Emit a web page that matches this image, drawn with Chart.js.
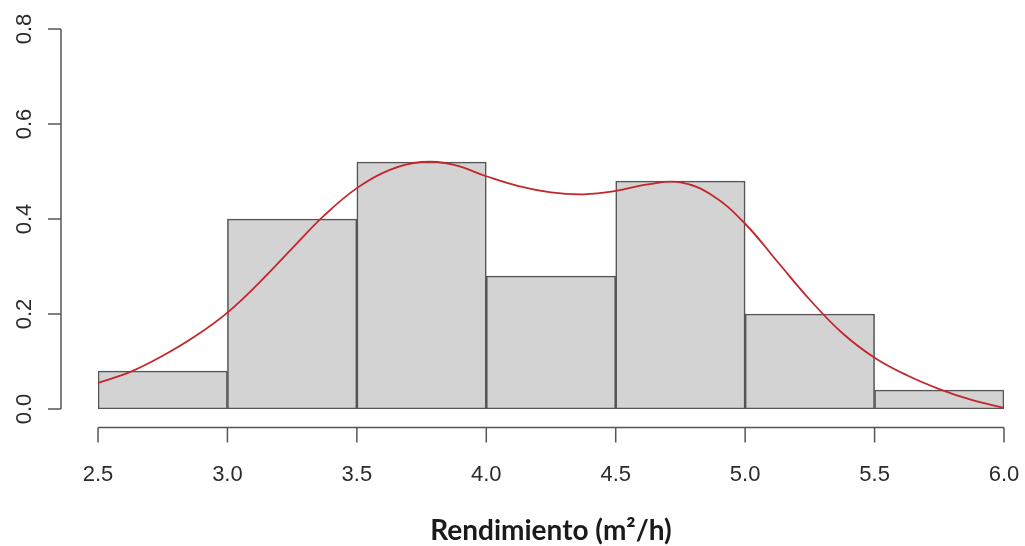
<!DOCTYPE html>
<html>
<head>
<meta charset="utf-8">
<title>Rendimiento</title>
<script src="https://cdn.jsdelivr.net/npm/chart.js@4/dist/chart.umd.min.js"></script>
<style>
  html, body { margin: 0; padding: 0; background: #ffffff; }
  #wrap { width: 1025px; height: 546px; }
</style>
</head>
<body>
<div id="wrap"><canvas id="chart" width="1025" height="546"></canvas></div>
<script>
// Histogram bins (centres), their densities, and the kernel density curve
const binCenters = [2.75, 3.25, 3.75, 4.25, 4.75, 5.25, 5.75];
const binDensity = [0.08, 0.40, 0.52, 0.28, 0.48, 0.20, 0.04];

const curveX = [2.5, 2.625, 2.75, 2.875, 3.0, 3.125, 3.25, 3.375, 3.5, 3.625, 3.75, 3.875,
                4.0, 4.125, 4.25, 4.375, 4.5, 4.625, 4.75, 4.875, 5.0, 5.125, 5.25, 5.375,
                5.5, 5.625, 5.75, 5.875, 6.0];
const curveY = [0.055, 0.078, 0.112, 0.153, 0.203, 0.267, 0.338, 0.408, 0.465, 0.503, 0.520, 0.514,
                0.490, 0.469, 0.456, 0.452, 0.459, 0.473, 0.477, 0.449, 0.390, 0.310, 0.230, 0.160,
                0.108, 0.071, 0.042, 0.019, 0.002];

const xTicks = [2.5, 3.0, 3.5, 4.0, 4.5, 5.0, 5.5, 6.0];
const yTicks = [0.0, 0.2, 0.4, 0.6, 0.8];
const xTitle = 'Rendimiento (m\u00B2/h)';

const axisColor = '#555555';
const labelColor = '#2b2b2b';

// R-style detached axes: lines and tick marks offset from the plotting region
const detachedAxes = {
  id: 'detachedAxes',
  afterDraw(chart) {
    const { ctx, scales: { x, y } } = chart;
    ctx.save();
    ctx.strokeStyle = axisColor;
    ctx.lineWidth = 1.5;
    ctx.lineCap = 'butt';

    // y axis
    const yLineX = 61, yTickLen = 13;
    ctx.beginPath();
    ctx.moveTo(yLineX, y.getPixelForValue(yTicks[0]));
    ctx.lineTo(yLineX, y.getPixelForValue(yTicks[yTicks.length - 1]));
    yTicks.forEach(v => {
      const py = y.getPixelForValue(v);
      ctx.moveTo(yLineX - yTickLen, py);
      ctx.lineTo(yLineX, py);
    });
    ctx.stroke();

    // x axis
    const xLineY = 427.5, xTickLen = 15;
    ctx.beginPath();
    ctx.moveTo(x.getPixelForValue(xTicks[0]), xLineY);
    ctx.lineTo(x.getPixelForValue(xTicks[xTicks.length - 1]), xLineY);
    xTicks.forEach(v => {
      const px = x.getPixelForValue(v);
      ctx.moveTo(px, xLineY);
      ctx.lineTo(px, xLineY + xTickLen);
    });
    ctx.stroke();
    ctx.restore();
  }
};

new Chart(document.getElementById('chart'), {
  type: 'bar',
  data: {
    datasets: [
      {
        type: 'line',
        order: 0,
        data: curveX.map((v, i) => ({ x: v, y: curveY[i] })),
        borderColor: '#c4262e',
        borderWidth: 1.8,
        pointRadius: 0,
        tension: 0.4,
        fill: false
      },
      {
        type: 'bar',
        order: 1,
        data: binCenters.map((v, i) => ({ x: v, y: binDensity[i] })),
        backgroundColor: '#d3d3d3',
        borderColor: '#555555',
        borderWidth: 1.6,
        borderSkipped: false,
        barPercentage: 1,
        categoryPercentage: 1
      }
    ]
  },
  options: {
    responsive: false,
    animation: false,
    devicePixelRatio: 1,
    layout: { padding: { top: 29, right: 21, left: 0, bottom: 0 } },
    plugins: { legend: { display: false }, tooltip: { enabled: false } },
    scales: {
      x: {
        type: 'linear',
        offset: false,
        min: 2.5,
        max: 6.0,
        grid: { display: false, drawTicks: false, offset: false },
        border: { display: false },
        afterFit(scale) {
          scale.height = 137;
          scale.paddingLeft = 0;
          scale.paddingRight = 0;
        },
        afterBuildTicks(scale) { scale.ticks = xTicks.map(v => ({ value: v })); },
        ticks: {
          padding: 53,
          color: labelColor,
          font: { family: 'Liberation Sans, Arial, sans-serif', size: 22 },
          maxRotation: 0,
          minRotation: 0,
          autoSkip: false,
          callback: v => Number(v).toFixed(1)
        },
        title: {
          display: true,
          text: xTitle,
          color: '#1a1a1a',
          font: { family: 'Lato, sans-serif', size: 28, weight: 'bold' },
          padding: { top: 0, bottom: -2 }
        }
      },
      y: {
        type: 'linear',
        min: 0,
        max: 0.8,
        grid: { display: false, drawTicks: false },
        border: { display: false },
        afterFit(scale) {
          scale.width = 98;
          scale.paddingTop = 0;
          scale.paddingBottom = 0;
        },
        afterBuildTicks(scale) { scale.ticks = yTicks.map(v => ({ value: v })); },
        ticks: {
          padding: 58,
          crossAlign: 'center',
          minRotation: 90,
          maxRotation: 90,
          color: labelColor,
          font: { family: 'Liberation Sans, Arial, sans-serif', size: 22 },
          autoSkip: false,
          callback: v => Number(v).toFixed(1)
        }
      }
    }
  },
  plugins: [detachedAxes]
});
</script>
</body>
</html>
